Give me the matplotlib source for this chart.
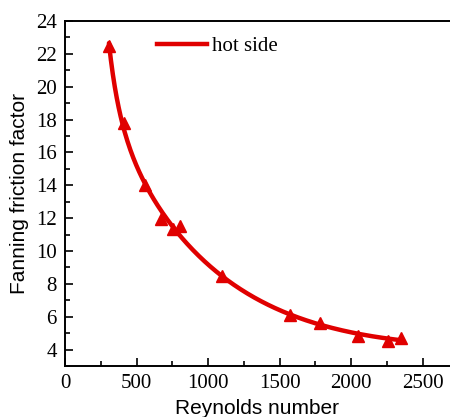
import numpy as np
import matplotlib
matplotlib.use("Agg")
import matplotlib.pyplot as plt
from matplotlib.ticker import MultipleLocator
from matplotlib.lines import Line2D

reynolds = [307, 412, 559, 670, 754, 803, 1096, 1571, 1781, 2046, 2256, 2346]
friction = [22.5, 17.8, 14.0, 11.95, 11.35, 11.5, 8.45, 6.13, 5.62, 4.85, 4.55, 4.72]
series_label = "hot side"

red = "#e00000"
serif = ["Liberation Serif", "DejaVu Serif"]
sans = ["Liberation Sans", "DejaVu Sans"]

fig = plt.figure(figsize=(4.5, 4.17), dpi=100)
ax = fig.add_axes([0.1444, 0.1223, 0.8556, 0.8273])

# smooth curve through the data (fit in log-log space)
lx = np.log(reynolds)
ly = np.log(friction)
coef = np.polyfit(lx, ly, 4)
xs = np.linspace(min(reynolds), max(reynolds), 300)
ys = np.exp(np.polyval(coef, np.log(xs)))
ax.plot(xs, ys, color=red, lw=3.2, solid_capstyle="round", zorder=2)
ax.plot(reynolds, friction, linestyle="none", marker="^", ms=8, color=red, zorder=3)

ax.set_xlim(0, 2690)
ax.set_ylim(3, 24)
ax.xaxis.set_major_locator(MultipleLocator(500))
ax.xaxis.set_minor_locator(MultipleLocator(250))
ax.yaxis.set_major_locator(MultipleLocator(2))
ax.yaxis.set_minor_locator(MultipleLocator(1))
ax.set_yticks(range(4, 25, 2))
ax.tick_params(which="major", direction="in", length=6, width=1.2, labelsize=15, pad=6)
ax.tick_params(which="minor", direction="in", length=3.5, width=1.2)
for lab in ax.get_xticklabels() + ax.get_yticklabels():
    lab.set_fontfamily(serif)

ax.spines["right"].set_visible(False)
for s in ["left", "bottom", "top"]:
    ax.spines[s].set_linewidth(1.4)

ax.set_xlabel("Reynolds number", fontsize=15, family=sans, labelpad=4)
ax.set_ylabel("Fanning friction factor", fontsize=15, family=sans, labelpad=5)

handle = Line2D([], [], color=red, lw=3.2)
ax.legend([handle], [series_label], loc="upper left", bbox_to_anchor=(0.19, 1.01),
          frameon=False, prop={"family": serif, "size": 15}, handlelength=2.4,
          handletextpad=0.25)

fig.savefig("out.png", dpi=100)
